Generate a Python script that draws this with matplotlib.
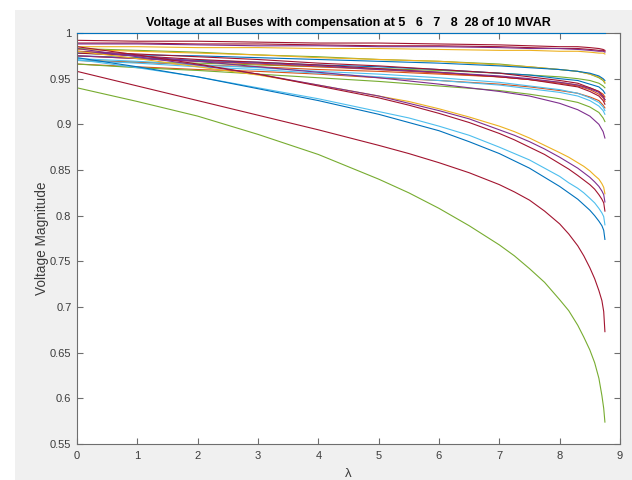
import matplotlib
matplotlib.use('Agg')
import matplotlib.pyplot as plt
from matplotlib.patches import Rectangle
from matplotlib.ticker import FuncFormatter, MultipleLocator

plt.rcParams['font.family'] = ['Liberation Sans', 'DejaVu Sans']

# MATLAB default line colours
c_blue = '#0072BD'
c_orange = '#D95319'
c_yellow = '#EDB120'
c_purple = '#7E2F8E'
c_green = '#77AC30'
c_lblue = '#4DBEEE'
c_red = '#A2142F'

# loading factor samples
lam = [0, 1, 2, 3, 4, 5, 6, 7, 7.5, 8, 8.3, 8.5, 8.65, 8.72, 8.75]
# finer samples for the weak buses (they bend hard near the nose)
lam_fine = [0, 1, 2, 3, 4, 5, 5.5, 6, 6.5, 7, 7.25, 7.5, 7.75, 8, 8.15, 8.3, 8.4,
            8.5, 8.58, 8.65, 8.7, 8.73, 8.75]

# slack bus
slack_v = [1.0, 1.0, 1.0, 1.0, 1.0, 1.0, 1.0, 1.0, 1.0, 1.0, 1.0, 1.0, 1.0, 1.0, 1.0]

# buses that barely move
top_colors = [c_red, c_red, c_purple, c_yellow]
top_curves = [
    [0.992, 0.991, 0.991, 0.990, 0.989, 0.989, 0.988, 0.987, 0.986, 0.985, 0.985, 0.984, 0.983, 0.982, 0.981],
    [0.989, 0.989, 0.988, 0.988, 0.987, 0.986, 0.986, 0.985, 0.984, 0.983, 0.983, 0.982, 0.981, 0.981, 0.980],
    [0.988, 0.988, 0.987, 0.986, 0.986, 0.985, 0.985, 0.984, 0.983, 0.983, 0.982, 0.981, 0.980, 0.980, 0.979],
    [0.985, 0.985, 0.984, 0.984, 0.983, 0.983, 0.982, 0.981, 0.981, 0.980, 0.980, 0.979, 0.978, 0.978, 0.977],
]

# middle band, ending between 0.95 and 0.88
mid_colors = [c_green, c_yellow, c_blue, c_green, c_blue, c_orange, c_red, c_orange,
              c_red, c_orange, c_lblue, c_lblue, c_green, c_purple, c_purple]
mid_curves = [
    [0.983, 0.981, 0.979, 0.976, 0.974, 0.971, 0.969, 0.966, 0.963, 0.960, 0.958, 0.955, 0.951, 0.948, 0.945],
    [0.982, 0.980, 0.978, 0.976, 0.973, 0.971, 0.969, 0.965, 0.963, 0.960, 0.958, 0.955, 0.952, 0.949, 0.946],
    [0.978, 0.976, 0.975, 0.973, 0.971, 0.969, 0.967, 0.964, 0.962, 0.960, 0.958, 0.956, 0.953, 0.950, 0.948],
    [0.970, 0.968, 0.967, 0.965, 0.963, 0.961, 0.959, 0.956, 0.954, 0.952, 0.950, 0.948, 0.945, 0.942, 0.940],
    [0.975, 0.973, 0.970, 0.968, 0.965, 0.963, 0.960, 0.956, 0.954, 0.950, 0.948, 0.944, 0.941, 0.937, 0.934],
    [0.970, 0.968, 0.965, 0.963, 0.960, 0.958, 0.955, 0.952, 0.949, 0.946, 0.943, 0.940, 0.936, 0.933, 0.930],
    [0.980, 0.977, 0.974, 0.971, 0.967, 0.964, 0.960, 0.956, 0.952, 0.948, 0.945, 0.940, 0.936, 0.931, 0.927],
    [0.975, 0.972, 0.969, 0.966, 0.963, 0.960, 0.956, 0.952, 0.949, 0.945, 0.942, 0.938, 0.933, 0.929, 0.925],
    [0.978, 0.975, 0.971, 0.968, 0.965, 0.961, 0.957, 0.952, 0.949, 0.944, 0.941, 0.936, 0.931, 0.926, 0.922],
    [0.966, 0.963, 0.960, 0.958, 0.955, 0.951, 0.948, 0.944, 0.941, 0.937, 0.934, 0.930, 0.926, 0.921, 0.918],
    [0.972, 0.969, 0.965, 0.962, 0.958, 0.955, 0.951, 0.946, 0.942, 0.938, 0.934, 0.929, 0.924, 0.919, 0.915],
    [0.970, 0.967, 0.963, 0.960, 0.956, 0.952, 0.948, 0.943, 0.939, 0.935, 0.931, 0.926, 0.920, 0.915, 0.911],
    [0.966, 0.962, 0.959, 0.955, 0.951, 0.947, 0.942, 0.937, 0.933, 0.928, 0.924, 0.919, 0.913, 0.907, 0.903],
    [0.980, 0.975, 0.969, 0.963, 0.957, 0.951, 0.944, 0.936, 0.931, 0.923, 0.916, 0.909, 0.900, 0.892, 0.885],
    [0.975, 0.972, 0.969, 0.967, 0.964, 0.960, 0.957, 0.953, 0.950, 0.946, 0.943, 0.939, 0.935, 0.930, 0.927],
]

# weak buses, sampled on lam_fine
low_colors = [c_yellow, c_purple, c_red, c_lblue, c_blue, c_red, c_green]
low_curves = [
    [0.980, 0.972, 0.963, 0.954, 0.943, 0.931, 0.925, 0.917, 0.908, 0.898, 0.892, 0.885,
     0.877, 0.869, 0.864, 0.858, 0.854, 0.849, 0.844, 0.840, 0.835, 0.831, 0.824],
    [0.983, 0.974, 0.965, 0.955, 0.943, 0.931, 0.923, 0.915, 0.906, 0.894, 0.888, 0.881,
     0.873, 0.864, 0.858, 0.852, 0.847, 0.842, 0.837, 0.832, 0.827, 0.823, 0.815],
    [0.985, 0.976, 0.966, 0.955, 0.942, 0.929, 0.921, 0.912, 0.902, 0.890, 0.883, 0.875,
     0.867, 0.857, 0.851, 0.844, 0.839, 0.834, 0.829, 0.823, 0.818, 0.814, 0.805],
    [0.971, 0.962, 0.952, 0.940, 0.928, 0.914, 0.907, 0.898, 0.888, 0.875, 0.868, 0.861,
     0.852, 0.843, 0.836, 0.830, 0.825, 0.819, 0.814, 0.808, 0.803, 0.799, 0.790],
    [0.973, 0.963, 0.952, 0.939, 0.926, 0.911, 0.902, 0.893, 0.881, 0.868, 0.860, 0.852,
     0.842, 0.832, 0.825, 0.818, 0.812, 0.806, 0.800, 0.794, 0.789, 0.784, 0.774],
    [0.958, 0.942, 0.926, 0.910, 0.894, 0.877, 0.868, 0.858, 0.847, 0.834, 0.826, 0.817,
     0.805, 0.791, 0.780, 0.767, 0.756, 0.743, 0.731, 0.718, 0.707, 0.695, 0.673],
    [0.940, 0.925, 0.909, 0.889, 0.867, 0.840, 0.825, 0.808, 0.789, 0.768, 0.756, 0.742,
     0.727, 0.708, 0.696, 0.680, 0.667, 0.653, 0.639, 0.622, 0.603, 0.589, 0.574],
]

fig = plt.figure(figsize=(6.32, 4.8), dpi=100, facecolor='white')
# grey MATLAB figure area (screenshot has a white strip left and top)
bg = Rectangle((15 / 632, 0), 1, 470 / 480, transform=fig.transFigure,
               facecolor='#f0f0f0', edgecolor='none', zorder=-10)
fig.add_artist(bg)

ax = fig.add_axes([77 / 632, 36 / 480, 543 / 632, 411 / 480])
ax.set_zorder(5)
ax.set_facecolor('white')

lw = 0.8
ax.plot(lam, slack_v, color=c_blue, lw=lw, clip_on=False, zorder=3)
for v, c in zip(top_curves, top_colors):
    ax.plot(lam, v, color=c, lw=lw)
for v, c in zip(mid_curves, mid_colors):
    ax.plot(lam, v, color=c, lw=lw)
for v, c in zip(low_curves, low_colors):
    ax.plot(lam_fine, v, color=c, lw=lw)

ax.set_xlim(0, 9)
ax.set_ylim(0.55, 1)
ax.xaxis.set_major_locator(MultipleLocator(1))
ax.yaxis.set_major_locator(MultipleLocator(0.05))
ax.yaxis.set_major_formatter(FuncFormatter(lambda y, p: '%g' % round(y, 2)))

axis_col = '#6e6e6e'
for s in ax.spines.values():
    s.set_color(axis_col)
    s.set_linewidth(0.8)
ax.tick_params(direction='in', length=4, width=0.8, color=axis_col,
               labelcolor='#3c3c3c', labelsize=8, top=True, right=True)
ax.tick_params(axis='x', pad=5)
ax.tick_params(axis='y', pad=4)

ax.set_title('Voltage at all Buses with compensation at 5   6   7   8  28 of 10 MVAR',
             fontsize=9, fontweight='bold', color='black', pad=5)
ax.set_ylabel('Voltage Magnitude', fontsize=9.8, color='#3c3c3c', labelpad=1)
ax.set_xlabel('λ', fontsize=9.5, color='#3c3c3c', labelpad=5)

fig.savefig('out.png', dpi=100, facecolor=fig.get_facecolor())
